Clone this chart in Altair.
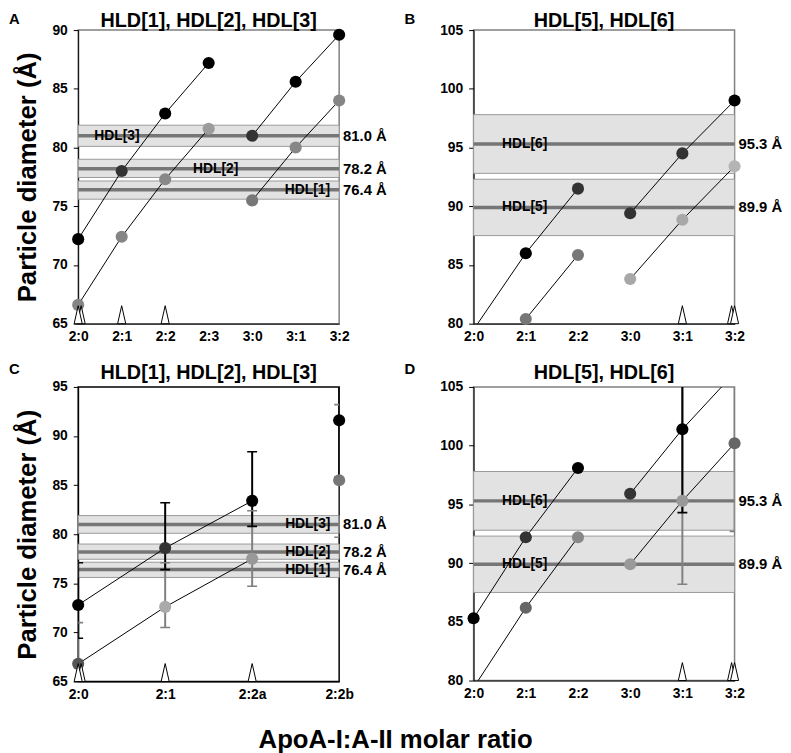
import altair as alt
import pandas as pd

FONT = "Liberation Sans"
ARROW = "M-0.45,0L0,-2L0.45,0Z"

# ---------------- Panel A ----------------
A_CATS = ["2:0", "2:1", "2:2", "2:3", "3:0", "3:1", "3:2"]
A_BLACK = [72.2, 78.0, 82.9, 87.2, 81.0, 85.6, 89.6]
A_BLACK_COLORS = ["#000000", "#333333", "#000000", "#000000", "#333333", "#000000", "#000000"]
A_GRAY = [66.6, 72.4, 77.3, 81.6, 75.5, 80.0, 84.0]
A_GRAY_COLORS = ["#858585", "#858585", "#888888", "#9c9c9c", "#777777", "#868686", "#868686"]
A_RUNS = [1, 1, 1, 1, 2, 2, 2]
A_ARROWS = [0, 1, 2]
A_DOUBLE = [0]

# ---------------- Panel B ----------------
B_CATS = ["2:0", "2:1", "2:2", "3:0", "3:1", "3:2"]
B_BLACK = [79.5, 86.0, 91.5, 89.4, 94.5, 99.0]
B_BLACK_COLORS = ["#000000", "#000000", "#333333", "#333333", "#333333", "#000000"]
B_GRAY = [None, 80.4, 85.85, 83.8, 88.85, 93.4]
B_GRAY_COLORS = ["#777777", "#777777", "#777777", "#a8a8a8", "#a8a8a8", "#b4b4b4"]
B_RUNS = [1, 1, 1, 2, 2, 2]
B_ARROWS = [4, 5]
B_DOUBLE = [5]

# ---------------- Panel C ----------------
C_CATS = ["2:0", "2:1", "2:2a", "2:2b"]
C_BLACK = [72.8, 78.6, 83.4, 91.6]
C_BLACK_COLORS = ["#000000", "#333333", "#000000", "#000000"]
C_GRAY = [66.8, 72.6, 77.5, 85.5]
C_GRAY_COLORS = ["#555555", "#aaaaaa", "#999999", "#777777"]
C_RUNS = [1, 1, 1, 2]
C_BLACK_ERR_LO = [69.4, 76.4, 80.8, 85.8]
C_BLACK_ERR_HI = [77.1, 83.2, 88.4, 98.0]
C_GRAY_ERR_LO = [62.0, 70.5, 74.7, 79.7]
C_GRAY_ERR_HI = [71.0, 77.1, 82.4, 93.2]
C_ARROWS = [0, 1, 2]
C_DOUBLE = [0]

# ---------------- Panel D ----------------
D_CATS = ["2:0", "2:1", "2:2", "3:0", "3:1", "3:2"]
D_BLACK = [85.3, 92.2, 98.1, 95.9, 101.4, 106.2]
D_BLACK_COLORS = ["#000000", "#333333", "#000000", "#333333", "#000000", "#000000"]
D_GRAY = [79.4, 86.2, 92.2, 89.9, 95.3, 100.2]
D_GRAY_COLORS = ["#666666", "#666666", "#888888", "#999999", "#999999", "#666666"]
D_RUNS = [1, 1, 1, 2, 2, 2]
D_BLACK_ERR_LO = [None, None, None, None, 94.3, None]
D_BLACK_ERR_HI = [None, None, None, None, 108.5, None]
D_GRAY_ERR_LO = [None, None, None, None, 88.2, 92.7]
D_GRAY_ERR_HI = [None, None, None, None, 106.0, 107.7]
D_ARROWS = [4, 5]
D_DOUBLE = [5]

# ---------------- HDL bands ----------------
SMALL_BANDS = ["HDL[1]", "HDL[2]", "HDL[3]"]
SMALL_MID = [76.4, 78.2, 81.0]
SMALL_LO = [75.6, 77.45, 80.1]
SMALL_HI = [77.15, 79.0, 81.9]
A_LABEL_AT = [5.27, 3.16, 0.89]
C_LABEL_AT = [2.9, 2.9, 2.9]

LARGE_BANDS = ["HDL[5]", "HDL[6]"]
LARGE_MID = [89.9, 95.3]
LARGE_LO = [87.5, 92.8]
LARGE_HI = [92.3, 97.8]
B_LABEL_AT = [0.98, 0.98]
D_LABEL_AT = [0.98, 0.98]

W = 264


def make_panel(cats, ylo, yhi, yticks, black, black_colors, gray, gray_colors, runs,
               bnames, bmid, blo, bhi, label_at, label_align,
               arrows, doubles, double_dx, err, title, letter, ytitle,
               frame_color, height, title_dy, letter_dy):
    n = len(cats)
    xs = alt.Scale(domain=[0, n - 1], nice=False, zero=False)
    ys = alt.Scale(domain=[ylo, yhi], nice=False, zero=False)
    label_expr = "[" + ",".join("'%s'" % c for c in cats) + "][datum.value]"
    xa = alt.Axis(values=list(range(n)), labelExpr=label_expr, title=None, ticks=False,
                  labelFontSize=14, labelFontWeight="bold", labelColor="black",
                  labelFont=FONT, labelPadding=6, labelFlush=False, labelOverlap=False,
                  grid=False, domainColor="black", domainWidth=1)
    yargs = dict(values=yticks, tickSize=5, tickColor="black", labelFontSize=14,
                 labelFontWeight="bold", labelColor="black", labelFont=FONT,
                 labelPadding=6, labelFlush=False, labelOverlap=False, grid=False,
                 domainColor="black", domainWidth=1)
    if ytitle:
        ya = alt.Axis(title=ytitle, titleFontSize=26, titleFontWeight="bold", titleFont=FONT,
                      titleColor="black", titlePadding=12, **yargs)
    else:
        ya = alt.Axis(title=None, **yargs)

    def X(f):
        return alt.X(f, type="quantitative", scale=xs, axis=xa)

    def Y(f):
        return alt.Y(f, type="quantitative", scale=ys, axis=ya)

    x0 = alt.X(datum=0, type="quantitative", scale=xs, axis=xa)
    xend = alt.X(datum=n - 1, type="quantitative", scale=xs, axis=xa)
    x1 = alt.X2(datum=n - 1)

    rows = []
    for i, v in enumerate(gray):
        if v is not None:
            rows.append(dict(x=i, y=v, color=gray_colors[i], key="g%d" % runs[i]))
    for i, v in enumerate(black):
        if v is not None:
            rows.append(dict(x=i, y=v, color=black_colors[i], key="b%d" % runs[i]))
    pts = pd.DataFrame(rows)

    bands = pd.DataFrame(dict(name=bnames, mid=bmid, lo=blo, hi=bhi, at=label_at,
                              val=["%.1f Å" % m for m in bmid]))

    layers = [
        alt.Chart(bands).mark_rect(fill="#e2e2e2", stroke="#9a9a9a", strokeWidth=1)
        .encode(x=x0, x2=x1, y=Y("lo"), y2="hi:Q"),
        alt.Chart(bands).mark_rule(color="#767676", strokeWidth=3.5)
        .encode(x=x0, x2=x1, y=Y("mid")),
        alt.Chart(pts).mark_line(color="black", strokeWidth=1, clip=True)
        .encode(x=X("x"), y=Y("y"), detail="key:N", order="x:Q"),
    ]

    if err is not None:
        erows = []
        for (lo_l, hi_l, col) in err:
            for i, (lo, hi) in enumerate(zip(lo_l, hi_l)):
                if lo is not None:
                    erows.append(dict(x=i, lo=lo, hi=hi, color=col))
        edf = pd.DataFrame(erows)
        layers += [
            alt.Chart(edf).mark_rule(strokeWidth=2, clip=True)
            .encode(x=X("x"), y=Y("lo"), y2="hi:Q", color=alt.Color("color:N", scale=None)),
            alt.Chart(edf).mark_tick(orient="horizontal", size=10, thickness=1.6, clip=True, opacity=1)
            .encode(x=X("x"), y=Y("lo"), color=alt.Color("color:N", scale=None)),
            alt.Chart(edf).mark_tick(orient="horizontal", size=10, thickness=1.6, clip=True, opacity=1)
            .encode(x=X("x"), y=Y("hi"), color=alt.Color("color:N", scale=None)),
        ]

    layers.append(
        alt.Chart(pts).transform_filter("datum.y >= %s && datum.y <= %s" % (ylo, yhi))
        .mark_circle(size=150, opacity=1)
        .encode(x=X("x"), y=Y("y"), color=alt.Color("color:N", scale=None))
    )

    arr = pd.DataFrame(dict(x=arrows))
    dbl = pd.DataFrame(dict(x=doubles))
    ybase = alt.Y(datum=ylo, type="quantitative", scale=ys, axis=ya)
    head = pd.DataFrame(dict(t=[letter], title=[title]))
    layers += [
        alt.Chart(dbl).mark_point(shape=ARROW, size=330, filled=True, fill="white",
                                  stroke="black", strokeWidth=1, opacity=1, xOffset=double_dx)
        .encode(x=X("x"), y=ybase),
        alt.Chart(arr).mark_point(shape=ARROW, size=330, filled=True, fill="white",
                                  stroke="black", strokeWidth=1, opacity=1)
        .encode(x=X("x"), y=ybase),
        alt.Chart(bands).mark_text(fontSize=14, fontWeight="bold", font=FONT, color="black",
                                   align=label_align, baseline="middle")
        .encode(x=X("at"), y=Y("mid"), text="name:N"),
        alt.Chart(bands).mark_text(fontSize=15, fontWeight="bold", font=FONT, color="black",
                                   align="left", baseline="middle", dx=4)
        .encode(x=xend, y=Y("mid"), text="val:N"),
        alt.Chart(head).mark_text(
            fontSize=15, fontWeight="bold", font=FONT, color="black", align="left",
            baseline="alphabetic")
        .encode(x=alt.value(-70), y=alt.value(letter_dy), text="t:N"),
        alt.Chart(head).mark_text(
            fontSize=20, fontWeight="bold", font=FONT, color="black", align="center",
            baseline="alphabetic")
        .encode(x=alt.value(W / 2), y=alt.value(title_dy), text="title:N"),
    ]

    return alt.layer(*layers).properties(
        width=W, height=height,
        view=alt.ViewBackground(stroke=frame_color, strokeWidth=1.5),
    )


pA = make_panel(A_CATS, 65, 90, [65, 70, 75, 80, 85, 90], A_BLACK, A_BLACK_COLORS, A_GRAY,
                A_GRAY_COLORS, A_RUNS, SMALL_BANDS, SMALL_MID, SMALL_LO, SMALL_HI, A_LABEL_AT,
                "center", A_ARROWS, A_DOUBLE, 3, None, "HLD[1], HDL[2], HDL[3]", "A",
                "Particle diameter (Å)", "#808080", 297, -3, -6)
pB = make_panel(B_CATS, 80, 105, [80, 85, 90, 95, 100, 105], B_BLACK, B_BLACK_COLORS, B_GRAY,
                B_GRAY_COLORS, B_RUNS, LARGE_BANDS, LARGE_MID, LARGE_LO, LARGE_HI, B_LABEL_AT,
                "center", B_ARROWS, B_DOUBLE, -3, None, "HDL[5], HDL[6]", "B", None,
                "#808080", 297, -3, -6)
pC = make_panel(C_CATS, 65, 95, [65, 70, 75, 80, 85, 90, 95], C_BLACK, C_BLACK_COLORS, C_GRAY,
                C_GRAY_COLORS, C_RUNS, SMALL_BANDS, SMALL_MID, SMALL_LO, SMALL_HI, C_LABEL_AT,
                "right", C_ARROWS, C_DOUBLE, 3,
                [(C_GRAY_ERR_LO, C_GRAY_ERR_HI, "#808080"), (C_BLACK_ERR_LO, C_BLACK_ERR_HI, "#000000")],
                "HLD[1], HDL[2], HDL[3]", "C", "Particle diameter (Å)", "#000000", 298, -8, -13)
pD = make_panel(D_CATS, 80, 105, [80, 85, 90, 95, 100, 105], D_BLACK, D_BLACK_COLORS, D_GRAY,
                D_GRAY_COLORS, D_RUNS, LARGE_BANDS, LARGE_MID, LARGE_LO, LARGE_HI, D_LABEL_AT,
                "center", D_ARROWS, D_DOUBLE, -3,
                [(D_GRAY_ERR_LO, D_GRAY_ERR_HI, "#808080"), (D_BLACK_ERR_LO, D_BLACK_ERR_HI, "#000000")],
                "HDL[5], HDL[6]", "D", None, "#808080", 297, -8, -13)

chart = alt.concat(pA, pB, pC, pD, columns=2, spacing={"row": 64, "column": 136},
                   bounds="flush").properties(
    title=alt.TitleParams(text="ApoA-I:A-II molar ratio", orient="bottom", fontSize=26,
                          fontWeight="bold", font=FONT, color="black", offset=25,
                          anchor="middle"),
    padding={"left": 0, "top": -2, "right": 0, "bottom": 0},
).configure(background="white")

chart.save("out.html", embed_options={"renderer": "svg", "actions": False})
